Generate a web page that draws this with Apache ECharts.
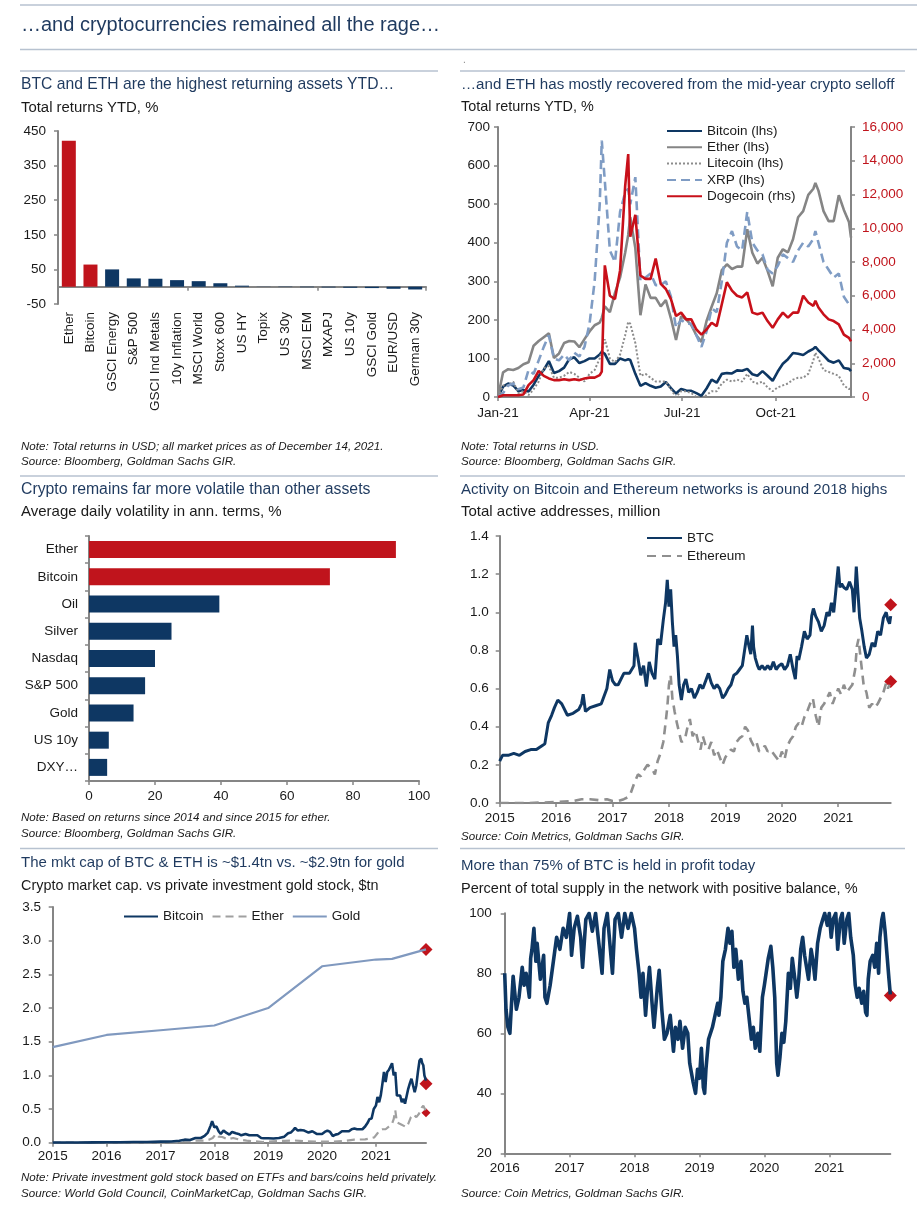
<!DOCTYPE html>
<html><head><meta charset="utf-8">
<script src="https://cdn.jsdelivr.net/npm/echarts@6/dist/echarts.min.js"></script>
<style>html,body{margin:0;padding:0;background:#fff}#c{width:917px;height:1216px}</style>
</head><body><div id="c"></div>
<script>
// ---------- Chart 1: YTD total returns (bars) ----------
const cats1 = ['Ether','Bitcoin','GSCI Energy','S&P 500','GSCI Ind Metals','10y Inflation','MSCI World','Stoxx 600','US HY','Topix','US 30y','MSCI EM','MXAPJ','US 10y','GSCI Gold','EUR/USD','German 30y'];
const ret1 = [422,64,50,24,23,19,16,10,3,0.5,-1,-1.5,-2,-3,-4,-6,-8];
const crypto1 = ['Ether','Bitcoin'];

// ---------- Chart 2: YTD returns of cryptos (day of 2021) ----------
const days2 = [0,5,10,15,20,25,30,35,40,45,50,55,60,65,70,75,80,85,90,95,100,102,105,110,115,120,125,128,130,135,140,145,150,155,160,165,170,175,180,185,190,195,200,205,210,215,220,225,230,235,240,245,250,255,260,265,270,275,280,285,290,295,300,305,310,312,315,320,325,330,335,340,345,347];
const btc2 = [0,27,35,30,15,18,14,32,55,70,93,62,67,76,98,103,88,93,100,100,110,117,112,86,86,100,95,98,96,60,29,36,29,24,27,39,23,9,21,17,16,10,3,22,45,37,60,62,61,69,68,73,59,55,67,55,42,66,86,98,114,112,109,118,125,130,121,108,94,89,95,75,73,67];
const eth2 = [0,64,72,70,75,85,90,133,145,155,165,101,113,140,145,144,129,150,170,186,193,205,235,220,270,310,374,420,466,386,212,292,257,257,235,251,204,148,209,201,186,160,143,197,234,269,329,344,332,338,338,435,374,346,361,327,287,361,383,375,409,466,482,524,540,555,535,482,456,456,523,485,454,413];
const ltc2 = [0,30,30,40,10,15,5,20,40,75,80,50,50,55,65,60,50,40,60,70,100,120,150,100,90,110,160,195,190,140,55,60,50,40,40,40,20,0,15,15,10,0,-5,5,15,15,35,45,40,45,40,60,40,35,40,25,15,25,30,35,45,50,50,60,95,115,100,70,65,60,55,30,20,25];
const xrp2 = [0,10,30,35,20,25,70,60,95,130,160,100,95,110,95,115,105,130,190,300,500,665,560,380,350,480,530,540,500,570,300,310,320,290,290,300,260,180,200,190,190,160,130,170,230,220,300,400,430,390,380,480,400,380,370,330,320,340,370,360,350,380,400,390,410,430,400,350,330,310,320,260,240,245];
const doge2 = [0,100,100,100,100,150,700,1000,1550,1250,1100,1000,1000,1050,1000,1050,1000,1100,1150,1150,1300,1500,7800,6000,5800,7500,12500,14400,9500,10800,7200,7000,7000,8200,6700,6400,5800,4800,5000,4600,4600,4000,3700,4000,4400,4200,5500,6800,6300,6000,5900,6200,5000,4900,5000,4500,4100,4600,5000,4700,5000,5000,6000,5600,5400,5700,5300,4900,4600,4500,4300,3700,3500,3300];
const xTicks2 = [0,90,181,273];
const xTickLabels2 = ['Jan-21','Apr-21','Jul-21','Oct-21'];

// ---------- Chart 3: volatility ----------
const cats3 = ['Ether','Bitcoin','Oil','Silver','Nasdaq','S&P 500','Gold','US 10y','DXY…'];
const vol3 = [93,73,39.5,25,20,17,13.5,6,5.5];

// ---------- Chart 4: active addresses (million) ----------
const btcAddrX = [2015.0,2015.05,2015.15,2015.25,2015.35,2015.45,2015.55,2015.65,2015.75,2015.8,2015.86,2015.92,2015.97,
 2016.03,2016.1,2016.2,2016.3,2016.4,2016.45,2016.48,2016.52,2016.6,2016.7,2016.8,2016.9,2016.95,
 2017.0,2017.05,2017.1,2017.2,2017.3,2017.38,2017.4,2017.45,2017.5,2017.55,2017.6,2017.65,2017.7,2017.75,2017.8,2017.85,2017.9,2017.94,2017.97,
 2018.0,2018.03,2018.06,2018.09,2018.12,2018.15,2018.18,2018.22,2018.26,2018.3,2018.35,2018.4,2018.45,2018.5,2018.55,2018.6,2018.65,2018.7,2018.75,2018.8,2018.85,2018.9,2018.95,
 2019.0,2019.05,2019.1,2019.15,2019.2,2019.25,2019.3,2019.35,2019.38,2019.42,2019.45,2019.48,2019.5,2019.53,2019.57,2019.6,2019.65,2019.7,2019.75,2019.8,2019.85,2019.9,2019.95,
 2020.0,2020.05,2020.1,2020.15,2020.2,2020.24,2020.27,2020.3,2020.35,2020.4,2020.45,2020.5,2020.53,2020.56,2020.6,2020.65,2020.7,2020.75,2020.8,2020.84,2020.88,2020.92,2020.96,
 2021.0,2021.03,2021.06,2021.1,2021.15,2021.2,2021.25,2021.28,2021.32,2021.35,2021.38,2021.42,2021.46,2021.5,2021.55,2021.6,2021.65,2021.7,2021.75,2021.8,2021.85,2021.88,2021.91,2021.93];
const btcAddr = [0.22,0.25,0.25,0.26,0.25,0.27,0.28,0.28,0.30,0.31,0.42,0.46,0.5,
 0.54,0.52,0.46,0.47,0.49,0.52,0.57,0.48,0.5,0.51,0.52,0.6,0.7,
 0.64,0.62,0.62,0.68,0.68,0.72,0.84,0.76,0.67,0.72,0.61,0.74,0.68,0.65,0.86,0.83,0.96,1.05,1.17,
 1.03,1.12,0.95,0.82,0.88,0.77,0.62,0.54,0.62,0.65,0.58,0.6,0.55,0.58,0.62,0.6,0.64,0.68,0.63,0.6,0.62,0.6,0.55,
 0.57,0.6,0.62,0.67,0.68,0.7,0.72,0.82,0.88,0.82,0.78,0.93,0.82,0.76,0.72,0.7,0.72,0.7,0.72,0.7,0.74,0.7,0.72,
 0.73,0.7,0.72,0.78,0.7,0.65,0.77,0.75,0.82,0.9,0.86,0.88,0.98,1.02,0.98,0.95,0.9,0.93,1.0,0.98,1.05,1.0,1.12,
 1.24,1.13,1.15,1.13,1.12,1.16,1.12,1.0,1.24,1.1,0.97,0.9,0.82,0.76,0.78,0.84,0.82,0.9,0.88,0.97,1.0,0.96,0.94,0.98];
const ethAddrX = [2015.0,2015.5,
 2016.0,2016.3,2016.45,2016.6,2016.75,2016.9,
 2017.0,2017.1,2017.2,2017.27,2017.32,2017.38,2017.45,2017.5,2017.55,2017.62,2017.7,2017.75,2017.8,2017.85,2017.9,2017.94,2017.97,
 2018.0,2018.03,2018.06,2018.1,2018.14,2018.18,2018.22,2018.28,2018.33,2018.37,2018.42,2018.47,2018.52,2018.56,2018.6,2018.65,2018.7,2018.75,2018.8,2018.85,2018.9,2018.95,
 2019.0,2019.05,2019.1,2019.15,2019.2,2019.25,2019.3,2019.35,2019.4,2019.45,2019.5,2019.55,2019.6,2019.65,2019.7,2019.75,2019.8,2019.85,2019.9,2019.95,
 2020.0,2020.05,2020.1,2020.15,2020.2,2020.25,2020.3,2020.35,2020.4,2020.45,2020.5,2020.55,2020.6,2020.65,2020.7,2020.75,2020.8,2020.85,2020.9,2020.95,
 2021.0,2021.05,2021.1,2021.15,2021.2,2021.25,2021.3,2021.33,2021.36,2021.4,2021.45,2021.5,2021.55,2021.6,2021.65,2021.7,2021.75,2021.8,2021.85,2021.88,2021.91];
const ethAddr = [0.0,0.0,
 0.005,0.01,0.02,0.02,0.015,0.02,
 0.01,0.01,0.02,0.03,0.05,0.1,0.15,0.14,0.17,0.2,0.18,0.15,0.22,0.26,0.32,0.42,0.5,
 0.62,0.67,0.55,0.48,0.42,0.37,0.32,0.33,0.4,0.44,0.35,0.38,0.32,0.28,0.35,0.3,0.28,0.32,0.25,0.28,0.24,0.2,
 0.24,0.26,0.28,0.27,0.32,0.34,0.35,0.4,0.38,0.33,0.3,0.32,0.27,0.28,0.3,0.27,0.28,0.26,0.24,0.22,
 0.27,0.23,0.3,0.33,0.35,0.4,0.42,0.4,0.45,0.48,0.52,0.55,0.46,0.4,0.5,0.52,0.55,0.58,0.52,0.56,
 0.6,0.57,0.62,0.58,0.6,0.62,0.7,0.82,0.86,0.75,0.62,0.58,0.5,0.52,0.5,0.52,0.55,0.58,0.63,0.6,0.62];
const addrEnd = [1.04, 0.637];

// ---------- Chart 5: market cap ($tn) ----------
const btcCapX = [2015.0,2015.25,2015.5,2015.75,2016.0,2016.25,2016.5,2016.75,2017.0,2017.2,2017.35,2017.45,2017.55,2017.65,2017.75,2017.82,2017.88,2017.93,2017.96,
 2018.0,2018.04,2018.08,2018.12,2018.17,2018.22,2018.28,2018.33,2018.4,2018.45,2018.5,2018.58,2018.65,2018.72,2018.8,2018.87,2018.92,
 2019.0,2019.1,2019.2,2019.3,2019.37,2019.42,2019.47,2019.5,2019.55,2019.6,2019.67,2019.75,2019.82,2019.9,
 2020.0,2020.05,2020.1,2020.15,2020.2,2020.25,2020.3,2020.37,2020.45,2020.5,2020.55,2020.6,2020.65,2020.7,2020.75,2020.8,2020.85,2020.88,2020.92,2020.96,
 2021.0,2021.03,2021.06,2021.09,2021.12,2021.15,2021.18,2021.21,2021.24,2021.27,2021.3,2021.33,2021.36,2021.39,2021.42,2021.45,2021.48,2021.51,2021.54,2021.57,2021.6,2021.63,2021.66,2021.69,2021.72,2021.75,2021.78,2021.81,2021.84,2021.86,2021.88,2021.9,2021.93];
const btcCap = [0.004,0.004,0.004,0.005,0.006,0.007,0.01,0.01,0.016,0.018,0.03,0.045,0.04,0.07,0.07,0.1,0.15,0.25,0.32,
 0.23,0.24,0.17,0.13,0.18,0.15,0.12,0.16,0.14,0.13,0.11,0.13,0.11,0.11,0.11,0.07,0.065,
 0.065,0.062,0.07,0.09,0.14,0.15,0.19,0.22,0.18,0.19,0.18,0.15,0.17,0.13,
 0.13,0.16,0.18,0.16,0.1,0.12,0.13,0.17,0.17,0.17,0.2,0.21,0.2,0.2,0.2,0.24,0.3,0.35,0.36,0.5,
 0.55,0.68,0.6,0.7,0.87,1.05,0.9,1.05,1.08,1.1,1.18,1.0,1.05,0.7,0.68,0.7,0.6,0.65,0.58,0.6,0.8,0.88,0.95,0.85,0.75,0.85,1.05,1.22,1.25,1.18,1.15,1.0,0.92];
const ethCapX = [2015.0,2016.0,2016.5,2017.0,2017.3,2017.45,2017.6,2017.8,2017.9,2017.97,2018.03,2018.08,2018.15,2018.25,2018.35,2018.45,2018.6,2018.75,2018.9,
 2019.0,2019.3,2019.5,2019.7,2020.0,2020.2,2020.4,2020.6,2020.8,2020.9,2020.97,2021.03,2021.08,2021.12,2021.18,2021.24,2021.3,2021.33,2021.36,2021.39,2021.42,2021.47,2021.52,2021.56,2021.6,2021.65,2021.7,2021.75,2021.8,2021.85,2021.88,2021.91,2021.93];
const ethCap = [0,0.001,0.001,0.001,0.005,0.03,0.03,0.03,0.045,0.07,0.13,0.09,0.085,0.05,0.07,0.05,0.03,0.02,0.01,
 0.015,0.028,0.033,0.02,0.015,0.015,0.025,0.045,0.05,0.065,0.08,0.14,0.19,0.2,0.2,0.24,0.28,0.35,0.48,0.3,0.3,0.27,0.25,0.23,0.28,0.38,0.42,0.38,0.43,0.52,0.55,0.5,0.46];
const goldX = [2015.0,2016.0,2017.0,2018.0,2019.0,2020.0,2021.0,2021.3,2021.93];
const gold = [1.42,1.60,1.67,1.74,2.0,2.62,2.72,2.73,2.87];
const capEnd = [2.87, 0.876, 0.446];

// ---------- Chart 6: % of BTC supply in profit ----------
const profX = [2016.0,2016.02,2016.05,2016.08,2016.1,2016.13,2016.18,2016.22,2016.27,2016.3,2016.33,2016.38,2016.4,2016.42,2016.45,2016.48,2016.5,2016.55,2016.6,2016.62,2016.65,2016.7,2016.75,2016.8,2016.85,2016.9,2016.95,
 2017.0,2017.03,2017.07,2017.12,2017.17,2017.2,2017.25,2017.3,2017.35,2017.4,2017.45,2017.5,2017.53,2017.58,2017.62,2017.66,2017.7,2017.75,2017.8,2017.85,2017.9,2017.95,
 2018.0,2018.03,2018.07,2018.1,2018.13,2018.17,2018.2,2018.23,2018.27,2018.3,2018.35,2018.38,2018.42,2018.46,2018.5,2018.55,2018.6,2018.63,2018.67,2018.7,2018.74,2018.78,2018.82,2018.85,2018.9,2018.94,2018.97,
 2019.0,2019.03,2019.06,2019.08,2019.1,2019.14,2019.2,2019.24,2019.28,2019.3,2019.33,2019.36,2019.4,2019.44,2019.47,2019.5,2019.53,2019.56,2019.6,2019.64,2019.67,2019.7,2019.73,2019.77,2019.8,2019.83,2019.86,2019.9,2019.93,2019.97,
 2020.0,2020.06,2020.1,2020.13,2020.16,2020.19,2020.21,2020.24,2020.27,2020.3,2020.33,2020.37,2020.4,2020.43,2020.47,2020.5,2020.53,2020.56,2020.59,2020.62,2020.65,2020.68,2020.72,2020.75,2020.78,2020.82,2020.86,2020.9,2020.93,2020.97,
 2021.0,2021.03,2021.06,2021.1,2021.13,2021.17,2021.2,2021.23,2021.27,2021.3,2021.33,2021.37,2021.4,2021.43,2021.46,2021.5,2021.53,2021.56,2021.58,2021.6,2021.63,2021.67,2021.7,2021.73,2021.76,2021.78,2021.81,2021.83,2021.86,2021.89,2021.92,2021.94];
const prof = [80,68,62,60,68,79,68,72,82,76,80,72,85,88,95,84,90,78,86,72,70,76,84,92,88,95,92,
 100,86,95,99,92,82,98,100,94,100,90,80,95,100,90,80,98,100,92,100,95,100,
 95,88,80,72,80,66,75,82,70,62,75,81,68,58,60,66,54,62,58,64,55,62,60,50,44,40,48,
 45,55,42,40,48,58,62,66,70,66,72,84,88,95,90,94,82,88,78,84,74,70,72,64,58,62,55,60,54,72,
 76,85,89,82,72,50,46,52,60,57,64,80,75,85,78,72,78,88,92,86,82,78,88,84,78,90,95,98,100,96,
 100,92,98,100,88,98,100,90,98,100,92,86,76,72,75,70,74,67,66,78,84,86,82,90,80,92,98,100,94,86,78,73];
const profEnd = [72.6];

// ---------------- rendering ----------------
const FONT = "'Liberation Sans', Arial, Helvetica, sans-serif";
const NAVY = '#0e3763', RED = '#c0141c', AX = '#858585', TITLE = '#1f3a5f', TXT = '#1a1a1a', RULE = '#b7c2d0';
const zip = (xs, ys) => xs.map((x, i) => [x, ys[i]]);

function txt(text, x, y, size, o) {
  o = o || {};
  return { type: 'text', x: x, y: y, silent: true, style: { text: text, fontSize: size, fontFamily: FONT,
    fontStyle: o.italic ? 'italic' : 'normal', fill: o.color || TXT, verticalAlign: 'middle', align: o.align || 'left' } };
}
function rule(x1, x2, y) {
  return { type: 'line', silent: true, shape: { x1: x1, y1: y, x2: x2, y2: y }, style: { stroke: RULE, lineWidth: 1.5 } };
}

const axLine = { show: true, onZero: false, lineStyle: { color: AX, width: 2 } };
const axTick = { show: true, length: 4, lineStyle: { color: AX, width: 1.5 } };
const lab = (m, extra) => Object.assign({ fontSize: 13.5, color: TXT, fontFamily: FONT, margin: m }, extra || {});
const yearVals = (a, b) => { const r = []; for (let y = a; y <= b; y++) r.push(y); return r; };
const legendBase = { padding: 0, selectedMode: false, itemWidth: 35, itemHeight: 12,
  itemStyle: { opacity: 0, color: 'transparent', borderWidth: 0 },
  textStyle: { fontSize: 13.5, color: TXT, fontFamily: FONT } };
const diamond = { color: RED, opacity: 1 };

const option = {
  animation: false,
  textStyle: { fontFamily: FONT },
  grid: [
    { left: 58, top: 131, width: 368, height: 173, outerBoundsMode: 'none' },
    { left: 498, top: 127, width: 353, height: 270, outerBoundsMode: 'none' },
    { left: 89, top: 536, width: 330, height: 245, outerBoundsMode: 'none' },
    { left: 499.7, top: 536, width: 391, height: 267, outerBoundsMode: 'none' },
    { left: 52.7, top: 907, width: 373.3, height: 235.7, outerBoundsMode: 'none' },
    { left: 504.7, top: 913.3, width: 385.6, height: 240, outerBoundsMode: 'none' }
  ],
  xAxis: [
    { gridIndex: 0, type: 'category', data: cats1, axisLine: { show: true, onZero: true, lineStyle: { color: AX, width: 2 } },
      axisTick: axTick, axisLabel: { show: false }, splitLine: { show: false } },
    { gridIndex: 0, type: 'category', data: cats1, position: 'bottom', axisLine: { show: false, onZero: false },
      axisTick: { show: false }, axisLabel: lab(8, { rotate: 90, interval: 0 }), splitLine: { show: false } },
    { gridIndex: 1, type: 'value', min: 0, max: 347, axisLine: axLine,
      axisTick: Object.assign({ customValues: xTicks2 }, axTick),
      axisLabel: lab(9, { customValues: xTicks2, formatter: v => xTickLabels2[xTicks2.indexOf(v)] || '' }), splitLine: { show: false } },
    { gridIndex: 2, type: 'value', min: 0, max: 100, interval: 20, axisLine: axLine, axisTick: axTick,
      axisLabel: lab(8), splitLine: { show: false } },
    { gridIndex: 3, type: 'value', min: 2015, max: 2021.93, axisLine: axLine,
      axisTick: Object.assign({ customValues: yearVals(2015, 2021) }, axTick),
      axisLabel: lab(8, { customValues: yearVals(2015, 2021), formatter: v => String(v) }), splitLine: { show: false } },
    { gridIndex: 4, type: 'value', min: 2015, max: 2021.93, axisLine: axLine,
      axisTick: Object.assign({ customValues: yearVals(2015, 2021) }, axTick),
      axisLabel: lab(7, { customValues: yearVals(2015, 2021), formatter: v => String(v) }), splitLine: { show: false } },
    { gridIndex: 5, type: 'value', min: 2016, max: 2021.94, axisLine: axLine,
      axisTick: Object.assign({ customValues: yearVals(2016, 2021) }, axTick),
      axisLabel: lab(8, { customValues: yearVals(2016, 2021), formatter: v => String(v) }), splitLine: { show: false } }
  ],
  yAxis: [
    { gridIndex: 0, type: 'value', min: -50, max: 450, interval: 100, axisLine: axLine, axisTick: axTick,
      axisLabel: lab(12), splitLine: { show: false } },
    { gridIndex: 1, type: 'value', min: 0, max: 700, interval: 100, axisLine: axLine, axisTick: axTick,
      axisLabel: lab(8), splitLine: { show: false } },
    { gridIndex: 1, type: 'value', position: 'right', min: 0, max: 16000, interval: 2000, axisLine: axLine, axisTick: axTick,
      axisLabel: lab(11, { color: '#c0141c', formatter: v => v.toLocaleString('en-US') }), splitLine: { show: false } },
    { gridIndex: 2, type: 'category', inverse: true, data: cats3, axisLine: axLine, axisTick: axTick,
      axisLabel: lab(11), splitLine: { show: false } },
    { gridIndex: 3, type: 'value', min: 0, max: 1.4, interval: 0.2, axisLine: axLine, axisTick: axTick,
      axisLabel: lab(11, { formatter: v => v.toFixed(1) }), splitLine: { show: false } },
    { gridIndex: 4, type: 'value', min: 0, max: 3.5, interval: 0.5, axisLine: axLine, axisTick: axTick,
      axisLabel: lab(11.7, { formatter: v => v.toFixed(1) }), splitLine: { show: false } },
    { gridIndex: 5, type: 'value', min: 20, max: 100, interval: 20, axisLine: axLine, axisTick: axTick,
      axisLabel: lab(13), splitLine: { show: false } }
  ],
  legend: [
    Object.assign({}, legendBase, { data: ['Bitcoin (lhs)', 'Ether (lhs)', 'Litecoin (lhs)', 'XRP (lhs)', 'Dogecoin (rhs)'],
      orient: 'vertical', left: 666, top: 124, itemGap: 2.3 }),
    Object.assign({}, legendBase, { data: ['BTC', 'Ethereum'], orient: 'vertical', left: 646, top: 531, itemGap: 4 }),
    Object.assign({}, legendBase, { data: ['Bitcoin', 'Ether', 'Gold'], orient: 'horizontal', left: 123, top: 909.5,
      itemWidth: 34, itemGap: 8 })
  ],
  series: [
    // chart 1
    { type: 'bar', xAxisIndex: 0, yAxisIndex: 0, barWidth: 14, silent: true,
      data: ret1.map((v, i) => ({ value: v, itemStyle: { color: crypto1.includes(cats1[i]) ? RED : NAVY } })) },
    // chart 2
    { name: 'Bitcoin (lhs)', type: 'line', xAxisIndex: 2, yAxisIndex: 1, showSymbol: false, symbol: 'none', silent: true,
      data: zip(days2, btc2), lineStyle: { color: NAVY, width: 2.6 }, itemStyle: { color: NAVY } },
    { name: 'Ether (lhs)', type: 'line', xAxisIndex: 2, yAxisIndex: 1, showSymbol: false, symbol: 'none', silent: true,
      data: zip(days2, eth2), lineStyle: { color: '#858585', width: 2.6 }, itemStyle: { color: '#858585' } },
    { name: 'Litecoin (lhs)', type: 'line', xAxisIndex: 2, yAxisIndex: 1, showSymbol: false, symbol: 'none', silent: true,
      data: zip(days2, ltc2), lineStyle: { color: '#8c8c8c', width: 2, type: [2, 2] }, itemStyle: { color: '#8c8c8c' } },
    { name: 'XRP (lhs)', type: 'line', xAxisIndex: 2, yAxisIndex: 1, showSymbol: false, symbol: 'none', silent: true,
      data: zip(days2, xrp2), lineStyle: { color: '#7f9cc4', width: 2.6, type: [9, 5] }, itemStyle: { color: '#7f9cc4' } },
    { name: 'Dogecoin (rhs)', type: 'line', xAxisIndex: 2, yAxisIndex: 2, showSymbol: false, symbol: 'none', silent: true,
      data: zip(days2, doge2), lineStyle: { color: '#c8101a', width: 2.6 }, itemStyle: { color: '#c8101a' } },
    // chart 3
    { type: 'bar', xAxisIndex: 3, yAxisIndex: 3, barWidth: 17, silent: true,
      data: vol3.map((v, i) => ({ value: v, itemStyle: { color: crypto1.includes(cats3[i]) ? RED : NAVY } })) },
    // chart 4
    { name: 'Ethereum', type: 'line', xAxisIndex: 4, yAxisIndex: 4, showSymbol: false, symbol: 'none', silent: true,
      data: zip(ethAddrX, ethAddr), lineStyle: { color: '#8f8f8f', width: 2.6, type: [9, 6] }, itemStyle: { color: '#8f8f8f' } },
    { name: 'BTC', type: 'line', xAxisIndex: 4, yAxisIndex: 4, showSymbol: false, symbol: 'none', silent: true,
      data: zip(btcAddrX, btcAddr), lineStyle: { color: NAVY, width: 3 }, itemStyle: { color: NAVY } },
    { type: 'scatter', xAxisIndex: 4, yAxisIndex: 4, symbol: 'diamond', symbolSize: 13, silent: true,
      data: addrEnd.map(v => [2021.93, v]), itemStyle: diamond },
    // chart 5
    { name: 'Gold', type: 'line', xAxisIndex: 5, yAxisIndex: 5, showSymbol: false, symbol: 'none', silent: true,
      data: zip(goldX, gold), lineStyle: { color: '#8099bf', width: 2.2 }, itemStyle: { color: '#8099bf' } },
    { name: 'Ether', type: 'line', xAxisIndex: 5, yAxisIndex: 5, showSymbol: false, symbol: 'none', silent: true,
      data: zip(ethCapX, ethCap), lineStyle: { color: '#a0a0a0', width: 2.2, type: [8, 5] }, itemStyle: { color: '#a0a0a0' } },
    { name: 'Bitcoin', type: 'line', xAxisIndex: 5, yAxisIndex: 5, showSymbol: false, symbol: 'none', silent: true,
      data: zip(btcCapX, btcCap), lineStyle: { color: NAVY, width: 2.6 }, itemStyle: { color: NAVY } },
    { type: 'scatter', xAxisIndex: 5, yAxisIndex: 5, symbol: 'diamond', silent: true,
      symbolSize: (v, p) => p.dataIndex === 2 ? 9 : 13,
      data: capEnd.map(v => [2021.93, v]), itemStyle: diamond },
    // chart 6
    { type: 'line', xAxisIndex: 6, yAxisIndex: 6, showSymbol: false, symbol: 'none', silent: true,
      data: zip(profX, prof), lineStyle: { color: NAVY, width: 3.6, join: 'round' } },
    { type: 'scatter', xAxisIndex: 6, yAxisIndex: 6, symbol: 'diamond', symbolSize: 13, silent: true,
      data: profEnd.map(v => [2021.94, v]), itemStyle: diamond }
  ],
  graphic: [
    rule(20, 917, 5), rule(20, 917, 49.5),
    txt('…and cryptocurrencies remained all the rage…', 21, 25, 20, { color: TITLE }),
    rule(20, 438, 71), rule(460, 905, 71), txt('.', 463, 60, 10, { color: '#888' }),
    txt('BTC and ETH are the highest returning assets YTD…', 21, 85, 15.7, { color: TITLE }),
    txt('Total returns YTD, %', 21, 107.5, 14.9),
    txt('Note: Total returns in USD; all market prices as of December 14, 2021.', 21, 447, 11.6, { italic: true }),
    txt('Source: Bloomberg, Goldman Sachs GIR.', 21, 462, 11.6, { italic: true }),
    txt('…and ETH has mostly recovered from the mid-year crypto selloff', 461, 85, 15.1, { color: TITLE }),
    txt('Total returns YTD, %', 461, 107.5, 14.4),
    txt('Note: Total returns in USD.', 461, 447, 11.6, { italic: true }),
    txt('Source: Bloomberg, Goldman Sachs GIR.', 461, 462, 11.6, { italic: true }),
    rule(20, 438, 476), rule(460, 905, 476),
    txt('Crypto remains far more volatile than other assets', 21, 490, 15.8, { color: TITLE }),
    txt('Average daily volatility in ann. terms, %', 21, 512, 15),
    txt('Note: Based on returns since 2014 and since 2015 for ether.', 21, 818, 11.6, { italic: true }),
    txt('Source: Bloomberg, Goldman Sachs GIR.', 21, 834, 11.6, { italic: true }),
    txt('Activity on Bitcoin and Ethereum networks is around 2018 highs', 461, 490, 15.1, { color: TITLE }),
    txt('Total active addresses, million', 461, 512, 15),
    txt('Source: Coin Metrics, Goldman Sachs GIR.', 461, 836.5, 11.6, { italic: true }),
    rule(20, 438, 848.5), rule(460, 905, 848.5),
    txt('The mkt cap of BTC & ETH is ~$1.4tn vs. ~$2.9tn for gold', 21, 863, 15, { color: TITLE }),
    txt('Crypto market cap. vs private investment gold stock, $tn', 21, 886, 14.4),
    txt('Note: Private investment gold stock based on ETFs and bars/coins held privately.', 21, 1178, 11.6, { italic: true }),
    txt('Source: World Gold Council, CoinMarketCap, Goldman Sachs GIR.', 21, 1193.5, 11.6, { italic: true }),
    txt('More than 75% of BTC is held in profit today', 461, 865.5, 15, { color: TITLE }),
    txt('Percent of total supply in the network with positive balance, %', 461, 888.5, 14.5),
    txt('Source: Coin Metrics, Goldman Sachs GIR.', 461, 1193.5, 11.6, { italic: true })
  ]
};

const chart = echarts.init(document.getElementById('c'), null, { renderer: 'canvas', width: 917, height: 1216 });
chart.setOption(option);
</script></body></html>
